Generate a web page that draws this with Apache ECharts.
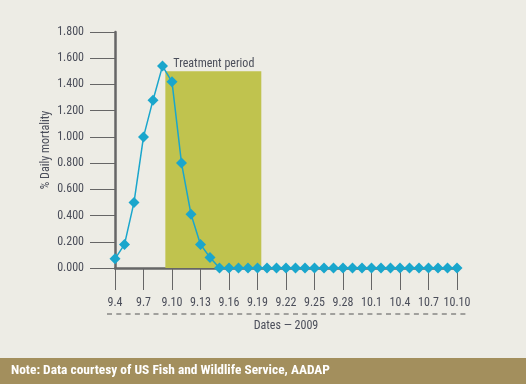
<!DOCTYPE html>
<html>
<head>
<meta charset="utf-8">
<script src="https://cdn.jsdelivr.net/npm/echarts@6/dist/echarts.min.js"></script>
<style>
html,body{margin:0;padding:0;background:#edece5;}
#c{width:526px;height:384px;}
</style>
</head>
<body>
<div id="c"></div>
<script>
// Daily dates 9.4 .. 10.10 (2009)
var categories = ['9.4','9.5','9.6','9.7','9.8','9.9','9.10','9.11','9.12','9.13','9.14','9.15','9.16','9.17','9.18','9.19','9.20','9.21','9.22','9.23','9.24','9.25','9.26','9.27','9.28','9.29','9.30','10.1','10.2','10.3','10.4','10.5','10.6','10.7','10.8','10.9','10.10'];
var mortality = [0.07,0.18,0.50,1.00,1.28,1.54,1.42,0.80,0.41,0.18,0.08,0,0,0,0,0,0,0,0,0,0,0,0,0,0,0,0,0,0,0,0,0,0,0,0,0,0];
var yTicks = [0,0.2,0.4,0.6,0.8,1.0,1.2,1.4,1.6,1.8];
// Treatment period: start index, end index (fractional day positions), top value
var treatment = [[5.3, 15.4, 1.5]];
var treatmentLabel = 'Treatment period';

var FONT = "'Roboto Condensed',sans-serif";
var TXT = '#4b4e5a';
var chart = echarts.init(document.getElementById('c'));
chart.setOption({
  backgroundColor: '#edece5',
  animation: false,
  textStyle: {fontFamily: FONT},
  grid: {left: 115, top: 32, right: 69, bottom: 116},
  xAxis: [{
    type: 'category',
    data: categories,
    boundaryGap: false,
    name: 'Dates — 2009',
    nameLocation: 'middle',
    nameGap: 52,
    nameMoveOverlap: false,
    nameTextStyle: {color: TXT, fontSize: 12, fontFamily: FONT},
    axisLine: {lineStyle: {color: '#666', width: 2.5}},
    axisTick: {interval: 2, length: 22, lineStyle: {color: '#666', width: 1}},
    axisLabel: {interval: 2, margin: 29, color: TXT, fontSize: 12, fontFamily: FONT},
    splitLine: {show: false}
  }, {
    type: 'value',
    min: 0, max: categories.length - 1,
    show: false
  }],
  yAxis: {
    type: 'value',
    min: yTicks[0], max: yTicks[yTicks.length - 1], interval: 0.2,
    name: '% Daily mortality',
    nameLocation: 'middle',
    nameGap: 63,
    nameMoveOverlap: false,
    nameTextStyle: {color: TXT, fontSize: 12, fontFamily: FONT},
    axisLine: {show: true, lineStyle: {color: '#666', width: 2.5}},
    axisTick: {show: true, length: 25, lineStyle: {color: '#666', width: 1}},
    axisLabel: {margin: 31, color: TXT, fontSize: 12, fontFamily: FONT,
      formatter: function (v) { return v.toFixed(3); }},
    splitLine: {show: false}
  },
  series: [{
    type: 'custom',
    xAxisIndex: 1,
    z: 1,
    data: treatment,
    renderItem: function (params, api) {
      var p0 = api.coord([api.value(0), api.value(2)]);
      var p1 = api.coord([api.value(1), 0]);
      return {
        type: 'group',
        children: [{
          type: 'rect',
          shape: {x: p0[0], y: p0[1], width: p1[0] - p0[0], height: p1[1] - p0[1]},
          style: {fill: '#c0c34e'}
        }, {
          type: 'text',
          style: {text: treatmentLabel, x: p0[0] + 8, y: p0[1] - 1, textVerticalAlign: 'bottom',
            fill: TXT, font: "12px 'Roboto Condensed'"}
        }]
      };
    }
  }, {
    type: 'line',
    data: mortality,
    z: 3,
    symbol: 'diamond',
    symbolSize: 11,
    showAllSymbol: true,
    itemStyle: {color: '#1aa6cc'},
    lineStyle: {color: '#1aa6cc', width: 1.5}
  }],
  graphic: [{
    type: 'line',
    shape: {x1: 107, y1: 314, x2: 467, y2: 314},
    style: {stroke: '#555', lineWidth: 1, lineDash: [5, 4.3]}
  }, {
    type: 'rect',
    shape: {x: 0, y: 358, width: 526, height: 26},
    style: {fill: '#a38f5d'}
  }, {
    type: 'text',
    x: 11, y: 371,
    style: {text: 'Note: Data courtesy of US Fish and Wildlife Service, AADAP', fill: '#ffffff',
      font: "bold 13.4px 'Roboto Condensed'", textVerticalAlign: 'middle'}
  }]
});
</script>
</body>
</html>
